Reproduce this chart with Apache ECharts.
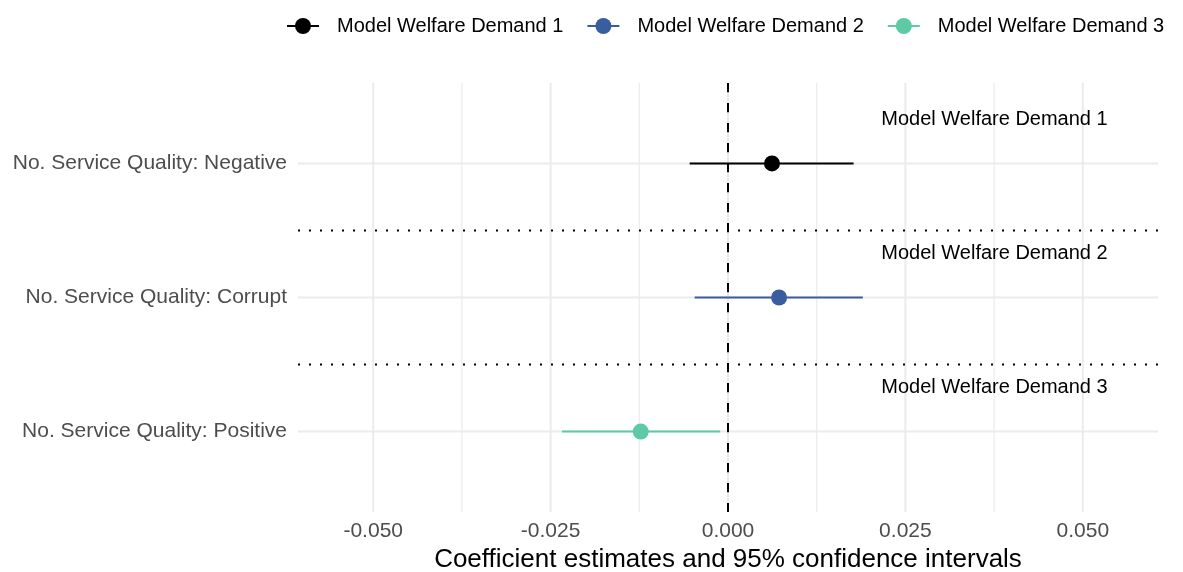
<!DOCTYPE html>
<html>
<head>
<meta charset="utf-8">
<script src="https://cdn.jsdelivr.net/npm/echarts@6/dist/echarts.min.js"></script>
<style>
  html, body { margin: 0; padding: 0; background: #ffffff; }
  #chart { width: 1183px; height: 572px; }
</style>
</head>
<body>
<div id="chart"></div>
<script>
// Coefficient plot: one term per model, point estimate with 95% CI
const terms = [
  'No. Service Quality: Negative',
  'No. Service Quality: Corrupt',
  'No. Service Quality: Positive'
];
const models = ['Model Welfare Demand 1', 'Model Welfare Demand 2', 'Model Welfare Demand 3'];
const estimates = [0.0062, 0.0072, -0.0123];
const ciLow = [-0.0054, -0.0047, -0.0234];
const ciHigh = [0.0177, 0.0190, -0.0011];
const xTicks = [-0.05, -0.025, 0, 0.025, 0.05];
const xMinorTicks = [-0.0375, -0.0125, 0.0125, 0.0375];

// style / layout settings
const FONT = "'Liberation Sans', Arial, Helvetica, sans-serif";
const modelColors = ['#000000', '#3A5DA0', '#5DCAA5'];
const X_MIN = -0.0606, X_MAX = 0.0606;
const Y_MIN = 0.4, Y_MAX = 3.6;
const labelX = 0.0216;     // left edge of the per-panel model captions
const labelLift = 0.33;    // caption offset above its row

const nRows = terms.length;
const rowY = i => nRows - i;            // first term at the top
const rowCenters = terms.map((t, i) => rowY(i));
const separators = rowCenters.slice(0, -1).map(y => y - 0.5);

function vLine(color, width, dash) {
  return function (params, api) {
    const v = api.value(0);
    const p1 = api.coord([v, Y_MAX]);
    const p2 = api.coord([v, Y_MIN]);
    return {
      type: 'line',
      shape: { x1: p1[0], y1: p1[1], x2: p2[0], y2: p2[1] },
      style: { stroke: color, lineWidth: width, lineDash: dash || null }
    };
  };
}
function hLine(color, width, dash) {
  return function (params, api) {
    const v = api.value(0);
    const p1 = api.coord([X_MIN, v]);
    const p2 = api.coord([X_MAX, v]);
    return {
      type: 'line',
      shape: { x1: p1[0], y1: p1[1], x2: p2[0], y2: p2[1] },
      style: { stroke: color, lineWidth: width, lineDash: dash || null }
    };
  };
}

const series = [
  { type: 'custom', silent: true, z: 1, renderItem: vLine('#ebebeb', 1.2),
    data: xMinorTicks.map(v => [v]), encode: { x: 0 } },
  { type: 'custom', silent: true, z: 1, renderItem: vLine('#ebebeb', 2),
    data: xTicks.map(v => [v]), encode: { x: 0 } },
  { type: 'custom', silent: true, z: 1, renderItem: hLine('#ebebeb', 2),
    data: rowCenters.map(v => [v]), encode: { y: 0 } },
  { type: 'custom', silent: true, z: 2, renderItem: hLine('#000000', 2, [2, 9]),
    data: separators.map(v => [v]), encode: { y: 0 } }
];

models.forEach((m, i) => {
  // confidence interval bar
  series.push({
    name: m,
    type: 'custom',
    z: 3,
    silent: true,
    data: [[ciLow[i], ciHigh[i], rowY(i)]],
    encode: { x: [0, 1], y: 2 },
    renderItem: function (params, api) {
      const a = api.coord([api.value(0), api.value(2)]);
      const b = api.coord([api.value(1), api.value(2)]);
      return {
        type: 'line',
        shape: { x1: a[0], y1: a[1], x2: b[0], y2: b[1] },
        style: { stroke: modelColors[i], lineWidth: 2 }
      };
    }
  });
});

// zero reference line
series.push({ type: 'custom', silent: true, z: 4, renderItem: vLine('#000000', 2, [9.3, 10.7]),
  data: [[0]], encode: { x: 0 } });

models.forEach((m, i) => {
  // point estimate
  series.unshift({
    name: m,
    type: 'line',
    z: 5,
    data: [[estimates[i], rowY(i)]],
    symbol: 'circle',
    symbolSize: 16,
    showSymbol: true,
    itemStyle: { color: modelColors[i] },
    lineStyle: { color: modelColors[i], width: 2 },
    emphasis: { disabled: true }
  });
});

// model captions in each row band
series.push({
  type: 'custom',
  z: 6,
  silent: true,
  data: models.map((m, i) => [labelX, rowY(i) + labelLift, m]),
  encode: { x: 0, y: 1 },
  renderItem: function (params, api) {
    const p = api.coord([api.value(0), api.value(1)]);
    return {
      type: 'text',
      x: p[0], y: p[1],
      style: {
        text: models[params.dataIndex],
        fill: '#000000',
        font: '20px ' + FONT,
        align: 'left',
        verticalAlign: 'middle'
      }
    };
  }
});

const chart = echarts.init(document.getElementById('chart'), null, { renderer: 'canvas' });
chart.setOption({
  backgroundColor: '#ffffff',
  animation: false,
  textStyle: { fontFamily: FONT },
  legend: {
    data: models,
    left: 281,
    top: 11,
    width: 1400,
    itemWidth: 32,
    itemHeight: 20,
    itemGap: 23,
    textStyle: { fontSize: 20, color: '#000000', fontFamily: FONT, padding: [0, 0, 0, 13] }
  },
  grid: { left: 298, right: 25, top: 83, bottom: 60, containLabel: false, outerBoundsMode: 'none' },
  xAxis: {
    type: 'value',
    min: X_MIN,
    max: X_MAX,
    name: 'Coefficient estimates and 95% confidence intervals',
    nameLocation: 'middle',
    nameGap: 32,
    nameTextStyle: { fontSize: 26, color: '#000000', fontFamily: FONT },
    axisLine: { show: false },
    axisTick: { show: false },
    splitLine: { show: false },
    axisLabel: {
      customValues: xTicks,
      formatter: v => v.toFixed(3),
      fontSize: 21,
      color: '#4d4d4d',
      margin: 9,
      fontFamily: FONT
    }
  },
  yAxis: {
    type: 'value',
    min: Y_MIN,
    max: Y_MAX,
    axisLine: { show: false },
    axisTick: { show: false },
    splitLine: { show: false },
    axisLabel: {
      customValues: rowCenters,
      formatter: v => terms[nRows - Math.round(v)],
      fontSize: 21,
      color: '#4d4d4d',
      margin: 11,
      fontFamily: FONT
    }
  },
  series: series
});
</script>
</body>
</html>
